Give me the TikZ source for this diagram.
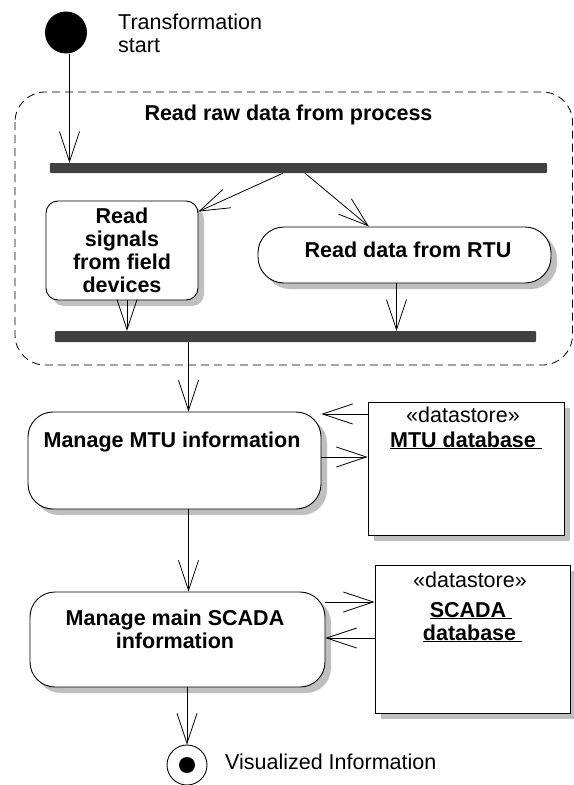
\documentclass[tikz,border=0pt]{standalone}
\usepackage{fontspec}
\setmainfont{Liberation Sans}
\usetikzlibrary{arrows.meta,shadows}

\begin{document}
\begin{tikzpicture}[x=1bp,y=-1bp,
  font=\fontsize{21.5bp}{23bp}\selectfont,
  flow/.style={draw=black, line width=0.8bp,
    -{Straight Barb[length=30bp,width=20bp,line width=0.8bp]}},
  boxshadow/.style={drop shadow={shadow xshift=6bp, shadow yshift=-6bp,
    fill=black!25, opacity=1}},
  action/.style={draw=black, line width=0.9bp, fill=white, inner sep=0pt,
    boxshadow},
  store/.style={draw=black, line width=0.9bp, fill=white, inner sep=0pt,
    boxshadow},
  bar/.style={fill=black!75, inner sep=0pt, rounded corners=1bp},
  lbl/.style={inner sep=0pt, text=black},
  boldlbl/.style={lbl, font=\fontsize{21.5bp}{23bp}\selectfont\bfseries},
  region/.style={draw=black, line width=0.8bp, dash pattern=on 8bp off 5bp,
    rounded corners=30bp},
]
\useasboundingbox (0,0) rectangle (574,785);
\fill[white] (0,0) rectangle (574,785);

% initial node and its caption
\node[circle, fill=black, minimum size=42bp, inner sep=0pt] (start) at (66,32.5) {};
\node[lbl, anchor=north west, align=left] (startlbl) at (118,13.3) {Transformation\\start};

% composite activity frame
\draw[region] (15,92) rectangle (572.5,365);
\node[boldlbl, anchor=base] (regionlbl) at (288.5,120) {Read raw data from process};

% fork and join bars
\node[bar, minimum width=497bp, minimum height=10bp] (bar1) at (298.5,168) {};
\node[bar, minimum width=481bp, minimum height=11bp] (bar2) at (295.5,336.5) {};

% parallel actions
\node[action, rounded corners=12bp, minimum width=152bp, minimum height=99bp,
  align=center, font=\fontsize{21.5bp}{23bp}\selectfont\bfseries] (sig)
  at (122,250.5) {Read\\signals\\from field\\devices};
\node[action, rounded corners=26bp, minimum width=293bp, minimum height=56bp] (rtu)
  at (404.5,255) {};
\node[boldlbl, anchor=base] (rtulbl) at (408,257) {Read data from RTU};

% MTU action and store
\node[action, rounded corners=25bp, minimum width=293bp, minimum height=97bp] (mtu)
  at (174.5,460.5) {};
\node[boldlbl, anchor=base] (mtulbl) at (172,447) {Manage MTU information};
\node[store, minimum width=196bp, minimum height=133bp] (mtudb) at (466,468.5) {};
\node[lbl, anchor=base] (mtust) at (463,422) {«datastore»};
\node[boldlbl, anchor=base] (mtudblbl) at (466,447) {\underline{MTU database\ }};

% SCADA action and store
\node[action, rounded corners=25bp, minimum width=295bp, minimum height=95bp] (scada)
  at (177.5,639.5) {};
\node[boldlbl, anchor=north, align=center] (scadalbl) at (175,609.3)
  {Manage main SCADA\\information};
\node[store, minimum width=195bp, minimum height=148bp] (scadadb) at (472.5,639) {};
\node[lbl, anchor=base] (scadast) at (470,587) {«datastore»};
\node[boldlbl, anchor=base] (scadadb1) at (471,617) {\underline{SCADA\ }};
\node[boldlbl, anchor=base] (scadadb2) at (472.5,640) {\underline{database\ }};

% final node and its caption
\node[circle, draw=black, line width=0.9bp, minimum size=40bp, inner sep=0pt] (end) at (187,765) {};
\node[circle, fill=black, minimum size=16bp, inner sep=0pt] (endin) at (end.center) {};
\node[lbl, anchor=base west] (endlbl) at (225,769) {Visualized Information};

% control flows
\draw[flow] ([xshift=3.5bp]start.south) -- ([xshift=3.5bp]start.south |- bar1.north);
\draw[flow] ([xshift=-15.5bp]bar1.south) -- ([yshift=-11bp]sig.north east);
\draw[flow] ([xshift=6.5bp]bar1.south) -- ([xshift=-35.5bp]rtu.north);
\draw[flow] ([xshift=5bp]sig.south) -- ([xshift=5bp]sig.south |- bar2.north);
\draw[flow] ([xshift=-8bp]rtu.south) -- ([xshift=-8bp]rtu.south |- bar2.north);
\draw[flow] ([xshift=14bp]mtu.north |- bar2.south) -- ([xshift=14bp]mtu.north);
\draw[flow] ([xshift=14bp]mtu.south) -- ([xshift=14bp]mtu.south |- scada.north);
\draw[flow] (scada.south -| end.north) -- (end.north);

% object flows to and from the stores
\draw[flow] ([yshift=54.5bp]mtudb.west) -- ([yshift=54.5bp]mtudb.west -| mtu.east);
\draw[flow] ([yshift=11.5bp]mtudb.west -| mtu.east) -- ([yshift=11.5bp]mtudb.west);
\draw[flow] ([yshift=37bp]scadadb.west -| scada.east) -- ([yshift=37bp]scadadb.west);
\draw[flow] ([yshift=1bp]scadadb.west) -- ([yshift=1bp]scadadb.west -| scada.east);
\end{tikzpicture}
\end{document}
